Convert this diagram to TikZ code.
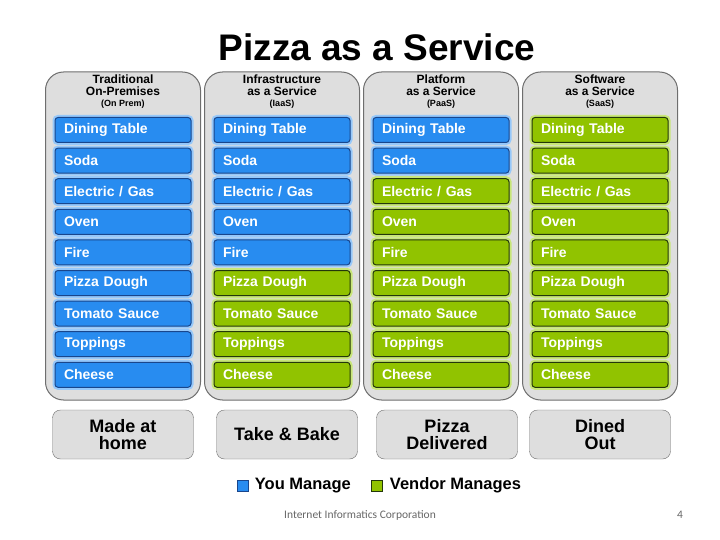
\documentclass[tikz,border=0pt]{standalone}
\usepackage{fontspec}
\setmainfont{Liberation Sans}
\newfontfamily\corpfont{Carlito}
\usepackage{tikz}
\usetikzlibrary{positioning}
\definecolor{youfill}{RGB}{40,140,240}
\definecolor{youline}{RGB}{25,70,140}
\definecolor{youlight}{RGB}{150,200,250}
\definecolor{vendfill}{RGB}{145,195,0}
\definecolor{vendline}{RGB}{35,55,10}
\definecolor{vendlight}{RGB}{200,230,120}
\definecolor{panelfill}{RGB}{222,222,222}
\definecolor{panelline}{RGB}{110,110,110}

\begin{document}
\begin{tikzpicture}[x=1pt,y=-1pt,
  panel/.style={rectangle, draw=panelline, fill=panelfill, line width=1pt,
                rounded corners=18pt, minimum width=155pt, minimum height=328pt},
  head/.style={align=center, font=\fontsize{12}{11.5}\selectfont\bfseries},
  food/.style={rectangle, draw=boxline, fill=boxfill, line width=1pt, rounded corners=3pt,
               preaction={draw=boxlight, line width=5pt},
               text=white, font=\fontsize{14}{14}\selectfont\bfseries,
               text width=118pt, inner xsep=9pt, minimum height=25pt, align=left},
  outcome/.style={rectangle, draw=panelline, fill=panelfill, rounded corners=8pt,
                  minimum width=141pt, minimum height=49pt, align=center,
                  font=\fontsize{18}{16.5}\selectfont\bfseries},
  key/.style={rectangle, draw=#1line, fill=#1fill, minimum size=11pt, inner sep=0pt},
  legend/.style={font=\fontsize{16.5}{18}\selectfont\bfseries, inner sep=0pt},
  foot/.style={font=\corpfont\fontsize{11.5}{13}\selectfont, text=black!60},
]
\useasboundingbox (0,0) rectangle (720,540);

\node[font=\fontsize{37}{40}\selectfont\bfseries] (title) at (377,47) {Pizza as a Service};

% columns: centre x / rows that you manage
\foreach \c/\x/\n in {1/123/9, 2/282/5, 3/441/2, 4/600/0} {
  \node[panel] (p\c) at (\x,236) {};
  \foreach \food [count=\r] in {Dining Table, Soda, Electric / Gas, Oven, Fire,
                                Pizza Dough, Tomato Sauce, Toppings, Cheese} {
    \ifnum\r>\n
      \colorlet{boxfill}{vendfill}\colorlet{boxline}{vendline}\colorlet{boxlight}{vendlight}
    \else
      \colorlet{boxfill}{youfill}\colorlet{boxline}{youline}\colorlet{boxlight}{youlight}
    \fi
    \node[food] (b\c-\r) at (\x,{130+30.6*(\r-1)}) {\food};
  }
}

\node[head] (h1) at (123,92) {Traditional\\On-Premises\\{\fontsize{9}{10}\selectfont(On Prem)}};
\node[head] (h2) at (282,92) {Infrastructure\\as a Service\\{\fontsize{9}{10}\selectfont(IaaS)}};
\node[head] (h3) at (441,92) {Platform\\as a Service\\{\fontsize{9}{10}\selectfont(PaaS)}};
\node[head] (h4) at (600,92) {Software\\as a Service\\{\fontsize{9}{10}\selectfont(SaaS)}};

\node[outcome] (o1) at (123,434.5) {Made at\\home};
\node[outcome] (o2) at (287,434.5) {Take \& Bake};
\node[outcome] (o3) at (447,434.5) {Pizza\\Delivered};
\node[outcome] (o4) at (600,434.5) {Dined\\Out};

% legend
\node[key=you] (kyou) at (243,485.5) {};
\node[legend, right=6pt of kyou] (lyou) {You Manage};
\node[key=vend] (kvend) at (377,485.5) {};
\node[legend, right=7pt of kvend] (lvend) {Vendor Manages};

\node[foot] (corp) at (360,515) {Internet Informatics Corporation};
\node[foot] (page) at (680,515) {4};
\end{tikzpicture}
\end{document}
